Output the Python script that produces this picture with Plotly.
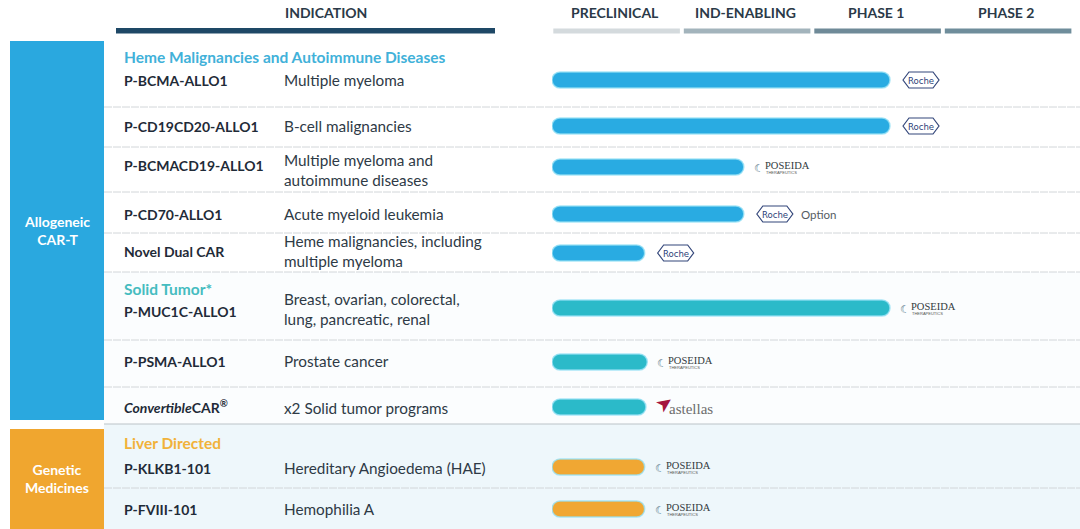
import plotly.graph_objects as go

# pipeline data
stages = ["PRECLINICAL", "IND-ENABLING", "PHASE 1", "PHASE 2"]
programs = ["P-BCMA-ALLO1", "P-CD19CD20-ALLO1", "P-BCMACD19-ALLO1", "P-CD70-ALLO1",
            "Novel Dual CAR", "P-MUC1C-ALLO1", "P-PSMA-ALLO1",
            "<i>Convertible</i>CAR<sup>®</sup>", "P-KLKB1-101", "P-FVIII-101"]
indications = ["Multiple myeloma", "B-cell malignancies",
               "Multiple myeloma and<br>autoimmune diseases", "Acute myeloid leukemia",
               "Heme malignancies, including<br>multiple myeloma",
               "Breast, ovarian, colorectal,<br>lung, pancreatic, renal",
               "Prostate cancer", "x2 Solid tumor programs",
               "Hereditary Angioedema (HAE)", "Hemophilia A"]
progress = [2.59, 2.59, 1.47, 1.47, 0.71, 2.59, 0.73, 0.72, 0.71, 0.71]
partners = ["Roche", "Roche", "POSEIDA", "Roche", "Roche",
            "POSEIDA", "POSEIDA", "astellas", "POSEIDA", "POSEIDA"]
partner_notes = ["", "", "", "Option", "", "", "", "", "", ""]
platforms = ["Allogeneic<br>CAR-T", "Genetic<br>Medicines"]
subgroups = {0: "Heme Malignancies and Autoimmune Diseases", 5: "Solid Tumor*", 8: "Liver Directed"}

# layout (pixel positions, y axis = pixels from top)
W, H = 1080, 529
row_y = [80, 126, 167, 214, 253, 308, 362, 407, 467, 509]
name_y = [80, 126, 165, 214, 251, 311, 361, 406, 468, 509]
ind_y = [80, 126, 170, 214, 251, 309, 361, 408, 468, 509]
sub_y = {0: 57, 5: 289, 8: 443}
row_lines = [107, 147, 192, 233, 272, 340, 387, 488]
section_line = 424
platform_spans = [(41, 420), (429, 529)]
platform_label_y = [230, 478]
platform_colors = ["#2aa8df", "#f0a62f"]
row_colors = ["#29abe2"] * 5 + ["#2bbac9"] * 3 + ["#f0a733"] * 2
sub_colors = {0: "#41b1d9", 5: "#45bcc0", 8: "#f1b23a"}
stage_colors = ["#d4dadd", "#a3b4bc", "#6f8a98", "#6f8d9b"]
FONT = "Lato"
DARK = "#1f2b38"

fig = go.Figure()

fig.add_trace(go.Bar(
    y=row_y, x=progress, base=0, orientation="h", width=16,
    marker=dict(color=row_colors, cornerradius=8,
                line=dict(color="rgba(150,225,245,0.8)", width=1.5)),
    hoverinfo="skip",
))

shapes = []
ann = []


def px(x):
    return x / W


# light background tint for the lower section
shapes.append(dict(type="rect", xref="paper", yref="y", x0=px(104), x1=1, y0=section_line, y1=H,
                   fillcolor="#eef7fb", line_width=0, layer="below"))
shapes.append(dict(type="rect", xref="paper", yref="y", x0=px(104), x1=1, y0=272, y1=section_line,
                   fillcolor="#fbfdfe", line_width=0, layer="below"))

# header
ann.append(dict(text="<b>INDICATION</b>", xref="paper", x=px(326), y=12, xanchor="center",
                font=dict(size=14, color="#2b3a48")))
shapes.append(dict(type="rect", xref="paper", yref="y", x0=px(116), x1=px(495), y0=28, y1=33.5,
                   fillcolor="#1e4866", line_width=0))
for i, s in enumerate(stages):
    ann.append(dict(text="<b>%s</b>" % s, xref="x", x=i + 0.48, y=12, xanchor="center",
                    font=dict(size=14, color="#2b3a48")))
    shapes.append(dict(type="rect", xref="x", yref="y", x0=i + 0.01, x1=i + 0.98, y0=28.5, y1=33.5,
                       fillcolor=stage_colors[i], line_width=0))

# platform boxes
for (y0, y1), label, ly, c in zip(platform_spans, platforms, platform_label_y, platform_colors):
    shapes.append(dict(type="rect", xref="paper", yref="y", x0=px(10), x1=px(104), y0=y0, y1=y1,
                       fillcolor=c, line_width=0))
    ann.append(dict(text="<b>%s</b>" % label, xref="paper", x=px(57), y=ly, xanchor="center",
                    font=dict(size=14, color="white")))

# separators
for y in row_lines:
    shapes.append(dict(type="line", xref="paper", yref="y", x0=px(104), x1=1, y0=y, y1=y,
                       line=dict(color="#d2d6d9", width=1, dash="8px,1px")))
shapes.append(dict(type="line", xref="paper", yref="y", x0=px(104), x1=1, y0=section_line, y1=section_line,
                   line=dict(color="#bcc3c7", width=1.2)))

# subgroup labels
for k, t in subgroups.items():
    ann.append(dict(text="<b>%s</b>" % t, xref="paper", x=px(122), y=sub_y[k], xanchor="left",
                    font=dict(size=15.5, color=sub_colors[k])))

# program names, indications, partners
for i in range(len(programs)):
    ann.append(dict(text="<b>%s</b>" % programs[i], xref="paper", x=px(122), y=name_y[i], xanchor="left",
                    font=dict(size=14, color=DARK)))
    ann.append(dict(text=indications[i], xref="paper", x=px(282), y=ind_y[i],
                    xanchor="left", align="left", font=dict(size=15.3, color="#2e3a46")))
    end = progress[i]
    yc = row_y[i]
    if partners[i] == "Roche":
        shapes.append(dict(type="path", xref="x", yref="y", xsizemode="pixel", xanchor=end,
                           path="M 13,%s L 19,%s L 43,%s L 49,%s L 43,%s L 19,%s Z" % (
                               yc, yc - 8, yc - 8, yc, yc + 8, yc + 8),
                           line=dict(color="#33467a", width=1.2), fillcolor="rgba(0,0,0,0)"))
        ann.append(dict(text="Roche", xref="x", x=end, xshift=31, y=yc, xanchor="center",
                        font=dict(size=9.5, color="#2c3f78", family="DejaVu Sans Condensed")))
        if partner_notes[i]:
            ann.append(dict(text=partner_notes[i], xref="x", x=end, xshift=55, y=yc, xanchor="left",
                            font=dict(size=11.5, color="#555c63")))
    elif partners[i] == "POSEIDA":
        ann.append(dict(text="☾", xref="x", x=end, xshift=8, y=yc + 1, xanchor="left",
                        font=dict(size=11, color="#4f7486", family="DejaVu Sans")))
        ann.append(dict(text="POSEIDA", xref="x", x=end, xshift=19, y=yc - 1.5, xanchor="left",
                        font=dict(size=10.5, color="#333a40", family="Liberation Serif")))
        ann.append(dict(text="THERAPEUTICS", xref="x", x=end, xshift=20, y=yc + 5, xanchor="left",
                        font=dict(size=4, color="#555", family="Liberation Sans")))
    elif partners[i] == "astellas":
        ann.append(dict(text="➤", xref="x", x=end, xshift=2, y=yc - 4, xanchor="left", textangle=-35,
                        font=dict(size=20, color="#a5153f", family="DejaVu Sans")))
        ann.append(dict(text="astellas", xref="x", x=end, xshift=21, y=yc + 2, xanchor="left",
                        font=dict(size=15, color="#6d6d6d", family="Liberation Serif")))

for a in ann:
    a.setdefault("yref", "y")
    a.setdefault("showarrow", False)
    a.setdefault("yanchor", "middle")

fig.update_layout(
    width=W, height=H, margin=dict(l=0, r=0, t=0, b=0),
    paper_bgcolor="white", plot_bgcolor="rgba(0,0,0,0)",
    font=dict(family=FONT, color=DARK),
    showlegend=False, shapes=shapes, annotations=ann,
    xaxis=dict(domain=[552 / W, 1074 / W], range=[0, 4], visible=False, fixedrange=True),
    yaxis=dict(domain=[0, 1], range=[H, 0], visible=False, fixedrange=True),
)

fig.write_html("out.html", config={"displayModeBar": False},
               post_script="document.body.style.margin='0';")
